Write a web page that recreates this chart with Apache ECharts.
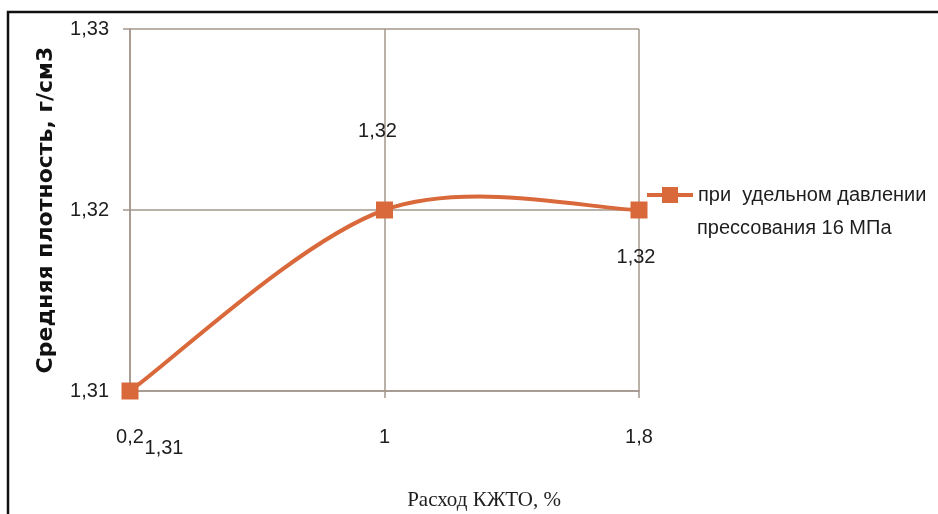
<!DOCTYPE html>
<html>
<head>
<meta charset="utf-8">
<script src="https://cdn.jsdelivr.net/npm/echarts@6/dist/echarts.min.js"></script>
<style>
  html, body { margin: 0; padding: 0; background: #fff; }
  #chart { width: 938px; height: 514px; }
</style>
</head>
<body>
<div id="chart"></div>
<script>
// Consumption of additive, % (x) vs. average density, g/cm3 (y)
const categories = ['0,2', '1', '1,8'];
const densityValues = [1.31, 1.32, 1.32];
const yTicks = { min: 1.31, max: 1.33, interval: 0.01 };
const seriesName = 'при  удельном давлении прессования 16 МПа';
const legendLines = ['при  удельном давлении', 'прессования 16 МПа'];

// per-point label offsets (label placement around each marker)
const labelOffsets = [[34, 57], [-7, -79], [-3, 47]];

const fmt = v => String(+v.toFixed(2)).replace('.', ',');

const chart = echarts.init(document.getElementById('chart'));
const lineColor = '#d9693b';
const gridColor = '#a3978d';
const textColor = '#1e1e1e';
const labelFont = 'Liberation Sans';

// Spline through the data points (cubic Bezier, tangent = (next - prev) / 6),
// positioned through the chart's own coordinate system.
function renderCurve(params, api) {
  const pts = densityValues.map((v, i) => api.coord([i, v]));
  const n = pts.length;
  let d = 'M' + pts[0][0] + ' ' + pts[0][1];
  for (let i = 0; i < n - 1; i++) {
    const p0 = pts[Math.max(i - 1, 0)];
    const p1 = pts[i];
    const p2 = pts[i + 1];
    const p3 = pts[Math.min(i + 2, n - 1)];
    const c1 = [p1[0] + (p2[0] - p0[0]) / 6, p1[1] + (p2[1] - p0[1]) / 6];
    const c2 = [p2[0] - (p3[0] - p1[0]) / 6, p2[1] - (p3[1] - p1[1]) / 6];
    d += ' C' + c1.join(' ') + ' ' + c2.join(' ') + ' ' + p2.join(' ');
  }
  return {
    type: 'path',
    shape: { pathData: d },
    style: { fill: 'none', stroke: lineColor, lineWidth: 4, lineCap: 'round', lineJoin: 'round' },
    silent: true
  };
}

chart.setOption({
  animation: false,
  backgroundColor: '#fff',
  grid: { left: 130, right: 299, top: 29, bottom: 123, containLabel: false },
  xAxis: {
    type: 'category',
    data: categories,
    boundaryGap: false,
    axisLine: { lineStyle: { color: gridColor, width: 1.5 } },
    axisTick: { show: true, length: 7, alignWithLabel: true, lineStyle: { color: gridColor, width: 1.5 } },
    splitLine: { show: true, lineStyle: { color: gridColor, width: 1.5 } },
    axisLabel: { margin: 36, color: textColor, fontFamily: labelFont, fontSize: 20 }
  },
  yAxis: {
    type: 'value',
    min: yTicks.min,
    max: yTicks.max,
    interval: yTicks.interval,
    axisLine: { show: true, lineStyle: { color: gridColor, width: 1.5 } },
    axisTick: { show: true, length: 7, lineStyle: { color: gridColor, width: 1.5 } },
    splitLine: { show: true, lineStyle: { color: gridColor, width: 1.5 } },
    axisLabel: { margin: 21, color: textColor, fontFamily: labelFont, fontSize: 20, formatter: fmt }
  },
  legend: {
    left: 645,
    top: 185,
    padding: 0,
    itemWidth: 46,
    itemHeight: 20,
    data: [seriesName],
    formatter: () => legendLines[0],
    lineStyle: { color: lineColor, width: 4, opacity: 1, type: 'solid' },
    textStyle: { color: textColor, fontFamily: labelFont, fontSize: 20 }
  },
  graphic: [
    {
      type: 'rect',
      shape: { x: 8, y: 12, width: 940, height: 520 },
      style: { fill: 'none', stroke: '#111', lineWidth: 2.5 },
      silent: true
    },
    {
      type: 'text',
      x: 697, y: 228,
      style: {
        text: legendLines[1],
        fill: textColor,
        font: '20px "Liberation Sans"',
        textAlign: 'left',
        textVerticalAlign: 'middle'
      }
    },
    {
      type: 'text',
      x: 46, y: 210,
      rotation: Math.PI / 2,
      style: {
        text: 'Средняя плотность, г/см3',
        fill: '#111',
        font: 'bold 22px "DejaVu Sans"',
        textAlign: 'center',
        textVerticalAlign: 'middle'
      }
    },
    {
      type: 'text',
      x: 484, y: 500,
      style: {
        text: 'Расход КЖТО, %',
        fill: textColor,
        font: '21px "Liberation Serif"',
        textAlign: 'center',
        textVerticalAlign: 'middle'
      }
    }
  ],
  series: [
    {
      name: 'curve',
      type: 'custom',
      z: 1,
      clip: false,
      data: [[0, densityValues[0]]],
      renderItem: renderCurve
    },
    {
      name: seriesName,
      type: 'line',
      z: 3,
      symbol: 'rect',
      symbolSize: 17,
      itemStyle: { color: lineColor },
      lineStyle: { color: lineColor, width: 0, opacity: 0 },
      data: densityValues.map((v, i) => ({
        value: v,
        label: {
          show: true,
          position: 'inside',
          offset: labelOffsets[i],
          formatter: p => fmt(p.value),
          color: textColor,
          fontFamily: labelFont,
          fontSize: 20
        }
      }))
    }
  ]
});
</script>
</body>
</html>
